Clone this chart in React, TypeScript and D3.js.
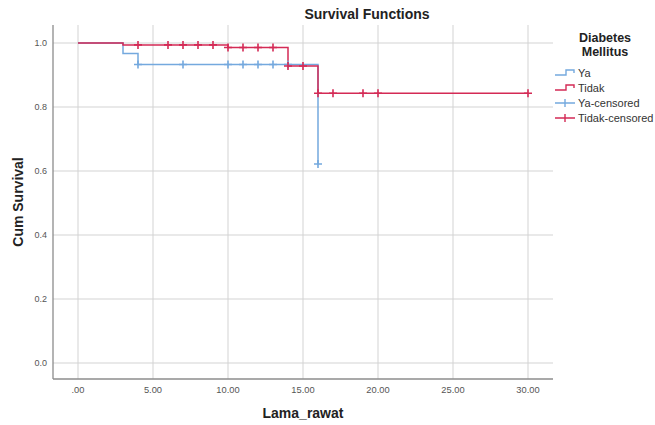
import React from "react";
import * as d3 from "d3";

// Kaplan-Meier steps
const yaTimes = [0, 3, 4, 16];
const yaSurv = [1.0, 0.967, 0.933, 0.622];
const tidakTimes = [0, 3, 10, 14, 16, 30];
const tidakSurv = [1.0, 0.994, 0.986, 0.928, 0.843, 0.843];

// censored observations
const yaCensTimes = [4, 7, 10, 11, 12, 13, 14, 16];
const yaCensSurv = [0.933, 0.933, 0.933, 0.933, 0.933, 0.933, 0.933, 0.622];
const tidakCensTimes = [4, 6, 7, 8, 9, 10, 11, 12, 13, 14, 15, 16, 17, 19, 20, 30];
const tidakCensSurv = [0.994, 0.994, 0.994, 0.994, 0.994, 0.986, 0.986, 0.986, 0.986, 0.928, 0.928, 0.843, 0.843, 0.843, 0.843, 0.843];

const xTicks = [0, 5, 10, 15, 20, 25, 30];
const yTicks = [0, 0.2, 0.4, 0.6, 0.8, 1.0];
const legendItems = ["Ya", "Tidak", "Ya-censored", "Tidak-censored"];

const BLUE = "#74a9de";
const RED = "#d42a55";
const FONT = "'Liberation Sans', Arial, sans-serif";

export default function App() {
  const left = 53, right = 553, top = 25, bottom = 379;

  const x = d3.scaleLinear().domain([0, 30]).range([78, 528]);
  const y = d3.scaleLinear().domain([0, 1]).range([363, 43]);

  const step = d3.line<[number, number]>()
    .x(d => x(d[0]))
    .y(d => y(d[1]))
    .curve(d3.curveStepAfter);

  const yaPath = step(yaTimes.map((t, i) => [t, yaSurv[i]]))!;
  const tidakPath = step(tidakTimes.map((t, i) => [t, tidakSurv[i]]))!;

  const cross = (cx: number, cy: number, color: string, key: string) => (
    <path key={key} d={`M${cx - 4},${cy}H${cx + 4}M${cx},${cy - 4}V${cy + 4}`}
      stroke={color} strokeWidth={1.6} fill="none" />
  );

  const fmtX = (v: number) => v === 0 ? ".00" : v.toFixed(2);

  return (
    <svg width={655} height={425} style={{ position: "absolute", left: 0, top: 0 }} fontFamily={FONT}>
      <rect width={655} height={425} fill="#fff" />

      {/* grid */}
      {yTicks.map(t => (
        <line key={"gy" + t} x1={left} x2={right} y1={y(t)} y2={y(t)} stroke="#d3d3d3" strokeWidth={1} />
      ))}
      {xTicks.map(t => (
        <line key={"gx" + t} x1={x(t)} x2={x(t)} y1={top} y2={bottom} stroke="#d3d3d3" strokeWidth={1} />
      ))}

      {/* axes */}
      <line x1={left} x2={left} y1={top} y2={bottom} stroke="#8c8c8c" strokeWidth={1.3} />
      <line x1={left} x2={right} y1={bottom} y2={bottom} stroke="#8c8c8c" strokeWidth={1.3} />

      {yTicks.map(t => (
        <text key={"ly" + t} x={47} y={y(t) + 3} textAnchor="end" fontSize={9} fill="#555">{t.toFixed(1)}</text>
      ))}
      {xTicks.map(t => (
        <text key={"lx" + t} x={x(t)} y={393} textAnchor="middle" fontSize={9.3} fill="#555">{fmtX(t)}</text>
      ))}

      {/* curves */}
      <path d={yaPath} fill="none" stroke={BLUE} strokeWidth={1.5} />
      <path d={tidakPath} fill="none" stroke={RED} strokeWidth={1.5} />
      {yaCensTimes.map((t, i) => cross(x(t), y(yaCensSurv[i]), BLUE, "cy" + i))}
      {tidakCensTimes.map((t, i) => cross(x(t), y(tidakCensSurv[i]), RED, "ct" + i))}

      {/* titles */}
      <text x={367} y={19} textAnchor="middle" fontSize={14} fontWeight="bold" fill="#222">Survival Functions</text>
      <text x={303} y={418} textAnchor="middle" fontSize={14} fontWeight="bold" fill="#222">Lama_rawat</text>
      <text transform={`translate(23,${(top + bottom) / 2}) rotate(-90)`} textAnchor="middle" fontSize={14} fontWeight="bold" fill="#222">Cum Survival</text>

      {/* legend */}
      <text x={605} y={42} textAnchor="middle" fontSize={12.5} fontWeight="bold" fill="#222">Diabetes</text>
      <text x={605} y={56} textAnchor="middle" fontSize={12.5} fontWeight="bold" fill="#222">Mellitus</text>
      {legendItems.map((name, i) => {
        const ly = 73 + i * 15;
        const color = i % 2 === 0 ? BLUE : RED;
        const sym = i < 2
          ? <path d={`M555,${ly + 2}H566V${ly - 3}H574V${ly}`} fill="none" stroke={color} strokeWidth={1.4} />
          : <path d={`M555,${ly}H575M565,${ly - 4}V${ly + 4}`} fill="none" stroke={color} strokeWidth={1.4} />;
        return (
          <g key={name}>
            {sym}
            <text x={578} y={ly + 4} fontSize={11} fill="#333">{name}</text>
          </g>
        );
      })}
    </svg>
  );
}
